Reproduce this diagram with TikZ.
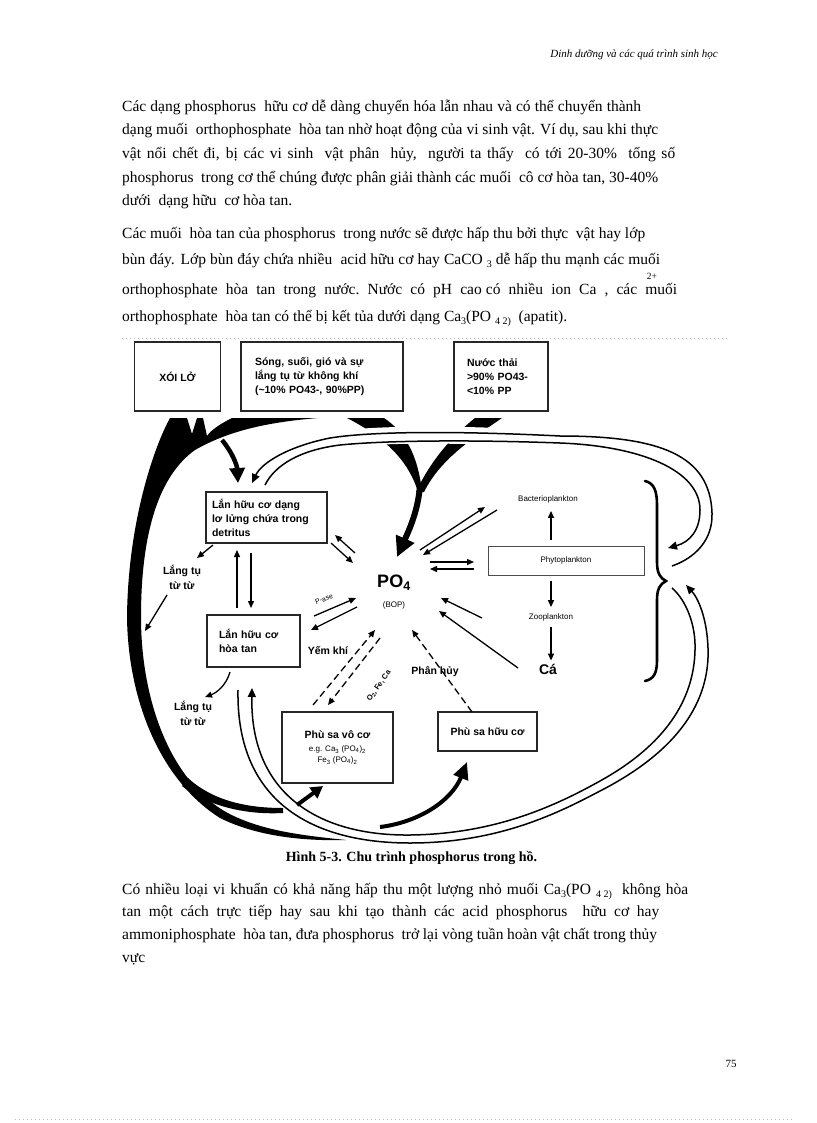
\documentclass[tikz,border=0pt]{standalone}
\usepackage{fontspec}
\setmainfont{Liberation Serif}
\newfontfamily\fsans{Liberation Sans}
\usetikzlibrary{arrows.meta,calc}
\newcommand{\lowsub}[1]{\raisebox{-3.5pt}{\fontsize{10}{10}\selectfont #1}}
\begin{document}
\begin{tikzpicture}[x=1pt,y=-1pt,
  body/.style={anchor=base west, inner sep=0pt, font=\fontsize{15.5}{17}\selectfont},
  box/.style={draw=black!85, line width=1.2pt, inner sep=0pt},
  lbl/.style={font=\fsans\bfseries\fontsize{10.5}{14}\selectfont},
  sm/.style={font=\fsans\fontsize{8}{10}\selectfont, inner sep=0pt},
  arr/.style={line width=1.3pt, -{Triangle[length=7pt,width=6pt]}},
  darr/.style={arr, dash pattern=on 7pt off 4pt},
  lp/.style={line width=1.5pt, -{Triangle[length=9pt,width=8pt]}},
]
\useasboundingbox (0,0) rectangle (816,1123);
\fill[white] (0,0) rectangle (816,1123);

% ---------- page text ----------
\node[anchor=base east, inner sep=0pt, font=\itshape\fontsize{11}{12}\selectfont] (hdr) at (718,58) {Dinh dưỡng và các quá trình sinh học};

\node[body] (p1a) at (122,112) {\makebox[519pt][s]{Các dạng phosphorus\ \ hữu cơ dễ dàng chuyển hóa lẫn nhau và có thể chuyển thành}};
\node[body] (p1b) at (122,135) {\makebox[536pt][s]{dạng muối\ \ orthophosphate\ \ hòa tan nhờ hoạt động của vi sinh vật. Ví dụ, sau khi thực}};
\node[body] (p1c) at (122,159) {\makebox[553pt][s]{vật nổi chết đi, bị các vi sinh\ \ vật phân\ \ hủy,\ \ người ta thấy\ \ có tới 20-30\%\ \ tổng số}};
\node[body] (p1d) at (122,183) {\makebox[536pt][s]{phosphorus\ \ trong cơ thể chúng được phân giải thành các muối\ \ cô cơ hòa tan, 30-40\%}};
\node[body] (p1e) at (122,206) {dưới\ \ dạng hữu\ \ cơ hòa tan.};

\node[body] (p2a) at (122,239) {\makebox[523pt][s]{Các muối\ \ hòa tan của phosphorus\ \ trong nước sẽ được hấp thu bởi thực\ \ vật hay lớp}};
\node[body] (p2b) at (122,264) {\makebox[538pt][s]{bùn đáy. Lớp bùn đáy chứa nhiều\ \ acid hữu cơ hay CaCO \lowsub{3} dễ hấp thu mạnh các muối}};
\node[body] (p2c) at (122,294) {\makebox[555pt][s]{orthophosphate\ \ hòa\ \ tan\ \ trong\ \ nước.\ \ Nước\ \ có\ \ pH\ \ cao có\ \ nhiều\ \ ion\ \ Ca\ \ ,\ \ các\ \ muối}};
\node[anchor=base, inner sep=0pt, font=\fontsize{9.5}{9.5}\selectfont] (sup) at (652,279) {2+};
\node[body] (p2d) at (122,321) {orthophosphate\ \ hòa tan có thể bị kết tủa dưới dạng Ca\lowsub{3}(PO \lowsub{4 2)}\ \ (apatit).};

\node[anchor=base, inner sep=0pt, font=\bfseries\fontsize{14}{16}\selectfont] (cap) at (411.5,861) {Hình 5-3. Chu trình phosphorus trong hồ.};

\node[body] (p3a) at (122,894) {\makebox[566pt][s]{Có nhiều loại vi khuẩn có khả năng hấp thu một lượng nhỏ muối Ca\lowsub{3}(PO \lowsub{4 2)}\ \ không hòa}};
\node[body] (p3b) at (122,916) {\makebox[537pt][s]{tan một cách trực tiếp hay sau khi tạo thành các acid phosphorus\ \ hữu cơ hay}};
\node[body] (p3c) at (122,939) {\makebox[535pt][s]{ammoniphosphate\ \ hòa tan, đưa phosphorus\ \ trở lại vòng tuần hoàn vật chất trong thủy}};
\node[body] (p3d) at (122,962) {vực};

\node[anchor=base, inner sep=0pt, font=\fontsize{11}{12}\selectfont] (pg) at (731,1067) {75};

\draw[black!25, line width=0.8pt, dash pattern=on 1pt off 3pt] (122,338) -- (728,338);
\draw[black!25, line width=0.8pt, dash pattern=on 1pt off 3pt] (15,1119) -- (795,1119);

% ---------- black flows ----------
\fill[black] (170,418) .. controls (155,445) and (128,520) .. (127,617)
  .. controls (128,700) and (160,780) .. (220,818)
  .. controls (260,838) and (310,841) .. (346,840)
  .. controls (310,836) and (262,832) .. (226,812)
  .. controls (170,780) and (141,700) .. (141,617)
  .. controls (141,530) and (160,475) .. (195,450)
  .. controls (230,430) and (270,422) .. (318,418)
  -- (232,418)
  .. controls (220,424) and (211,430) .. (207,436)
  -- (203,418) -- (197,418) -- (192,434) -- (187,418) -- cycle;
\fill[black] (188,778) .. controls (212,800) and (245,808) .. (283,808)
  -- (283,813) .. controls (245,815) and (208,806) .. (182,786) -- cycle;
\draw[line width=4.5pt, -{Triangle[length=15pt,width=15pt]}] (222,440) .. controls (232,452) and (237,465) .. (238,483);

\fill[black] (347,418) -- (384,418) .. controls (405,432) and (418,455) .. (422,492)
  -- (418,492) .. controls (410,465) and (390,440) .. (347,418) -- cycle;
\fill[black] (475,418) -- (502,418) .. controls (470,440) and (440,460) .. (424,492)
  -- (416,492) .. controls (430,462) and (450,438) .. (475,418) -- cycle;
\draw[line width=6pt, -{Triangle[length=20pt,width=19pt]}] (420,486) .. controls (418,510) and (410,528) .. (397,557);

\draw[white, line width=17pt] (335,440) .. controls (380,433) and (480,434) .. (560,440);

% ---------- boxes ----------
\node[box, lbl, minimum width=86pt, minimum height=69pt] (xoi) at (177.5,376.5) {XÓI LỞ};
\node[box, lbl, align=left, text width=134pt, inner xsep=14pt, minimum height=69pt] (song) at (322,376.5) {Sóng, suối, gió và sự\\lắng tụ từ không khí\\(\textasciitilde10\% PO43-, 90\%PP)};
\node[box, lbl, align=left, text width=68pt, inner xsep=13pt, minimum height=69pt] (nuoc) at (501,376.5) {Nước thải\\>90\% PO43-\\<10\% PP};
\node[box, lbl, align=left, text width=109pt, inner xsep=6pt, minimum height=51pt] (lan1) at (266.5,517.5) {Lắn hữu cơ dạng\\lơ lửng chứa trong\\detritus};
\node[box, lbl, align=left, text width=69pt, inner xsep=12pt, minimum height=52pt] (lan2) at (253.5,641) {Lắn hữu cơ\\hòa tan};
\node[box, minimum width=111pt, minimum height=71pt, align=center] (psv) at (337.5,747.5) {{\fsans\bfseries\fontsize{10.5}{14}\selectfont Phù sa vô cơ}\\[1pt]{\fsans\fontsize{8}{13}\selectfont e.g. Ca\textsubscript{3} (PO\textsubscript{4})\textsubscript{2}}\\[-1pt]{\fsans\fontsize{8}{12}\selectfont Fe\textsubscript{3} (PO\textsubscript{4})\textsubscript{2}}};
\node[box, lbl, minimum width=99pt, minimum height=39pt] (psh) at (487.5,731.5) {Phù sa hữu cơ};
\node[draw=black!70, line width=1pt, sm, minimum width=156pt, minimum height=29pt] (phyto) at (566,560.5) {Phytoplankton};

% ---------- labels ----------
\node[sm] (bact) at (548,499) {Bacterioplankton};
\node[sm] (zoo) at (551,617) {Zooplankton};
\node[inner sep=0pt, font=\fsans\bfseries\fontsize{14}{16}\selectfont] (ca) at (548,669) {Cá};
\node[inner sep=0pt, font=\fsans\bfseries\fontsize{18}{20}\selectfont] (po4) at (394,583) {PO\textsubscript{4}};
\node[sm] (bop) at (394,605) {(BOP)};
\node[inner sep=0pt, align=center, font=\fsans\bfseries\fontsize{10.5}{15}\selectfont] (lt1) at (182,577) {Lắng tụ\\từ từ};
\node[inner sep=0pt, align=center, font=\fsans\bfseries\fontsize{10.5}{15}\selectfont] (lt2) at (193,713) {Lắng tụ\\từ từ};
\node[lbl, inner sep=0pt] (yem) at (328,651) {Yếm khí};
\node[lbl, inner sep=0pt] (phanhuy) at (435,672) {Phân hủy};
\node[inner sep=0pt, font=\fsans\fontsize{7}{8}\selectfont, rotate=22] (pase) at (324,599) {P-ase};
\node[inner sep=0pt, font=\fsans\bfseries\fontsize{7.5}{9}\selectfont, rotate=55] (ofc) at (379,686) {O\textsubscript{2}, Fe, Ca};

% ---------- thin arrows ----------
\draw[arr, shorten <=6pt, shorten >=8pt] (phyto.north -| zoo.north) -- (zoo.north |- bact.south);
\draw[arr, shorten <=5pt, shorten >=6pt] (phyto.south -| zoo.north) -- (zoo.north);
\draw[arr, shorten <=6pt, shorten >=3pt] (zoo.south) -- (zoo.south |- ca.north);

\draw[arr] (420,550) -- (485,507);
\draw[arr] (497,510) -- (423,555);
\draw[arr] (430,562) -- (474,562);
\draw[arr] (474,569) -- (430,569);
\draw[arr] (355,553) -- (335,535);
\draw[arr] (331,543) -- (353,563);
\draw[arr] (237,608) -- (237,550);
\draw[arr] (251,553) -- (251,608);
\draw[arr] (314,616) -- (356,598);
\draw[arr] (357,607) -- (311,630);
\draw[arr] (518,668) -- (439,611);
\draw[arr] (482,618) -- (441,598);
\draw[darr] (313,705) -- (375,630);
\draw[darr] (380,638) -- (328,705);
\draw[darr] (472,712) -- (412,630);
\draw[arr] (213,545) -- (197,558);
\draw[arr] (167,595) -- (145,631);
\draw[arr] (230,672) .. controls (226,686) and (216,693) .. (205,697);

\draw[line width=4pt, -{Triangle[length=12pt,width=13pt]}] (297,805) -- (323,786);
\draw[line width=4pt, -{Triangle[length=17pt,width=15pt]}] (380,827) .. controls (420,822) and (452,800) .. (467,762);

% ---------- double loops ----------
\draw[lp] (672,566) .. controls (695,558) and (713,540) .. (712,513)
  .. controls (710,455) and (660,436) .. (560,436)
  .. controls (480,432) and (380,430) .. (330,438)
  .. controls (290,446) and (262,462) .. (252,483);
\draw[lp] (265,485) .. controls (275,465) and (300,450) .. (340,445)
  .. controls (390,440) and (480,440) .. (560,443)
  .. controls (640,446) and (700,470) .. (700,510)
  .. controls (700,530) and (690,542) .. (668,548);
\draw[lp] (238,690) .. controls (236,800) and (310,843) .. (410,843)
  .. controls (500,843) and (560,812) .. (600,791)
  .. controls (680,750) and (710,700) .. (708,648)
  .. controls (707,618) and (698,598) .. (686,585);
\draw[lp] (672,588) .. controls (686,600) and (696,625) .. (695,650)
  .. controls (694,700) and (665,745) .. (600,781)
  .. controls (555,806) and (495,834) .. (410,835)
  .. controls (320,836) and (250,795) .. (252,688);

\draw[line width=2.6pt, line cap=round] (645,481) .. controls (654,483) and (657,491) .. (657,505)
  -- (657,562) .. controls (657,573) and (660,578) .. (666,581)
  .. controls (660,584) and (657,589) .. (657,600)
  -- (657,660) .. controls (657,673) and (654,679) .. (645,681);
\end{tikzpicture}
\end{document}
